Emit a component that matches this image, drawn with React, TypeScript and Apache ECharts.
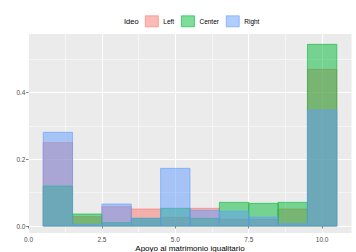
import React, { useEffect, useRef } from "react";
import * as echarts from "echarts";

const binCenters = [1, 2, 3, 4, 5, 6, 7, 8, 9, 10];
const leftValues = [0.25, 0.028, 0.058, 0.051, 0.026, 0.053, 0.02, 0.02, 0.051, 0.47];
const centerValues = [0.12, 0.036, 0.01, 0.023, 0.053, 0.023, 0.071, 0.068, 0.071, 0.545];
const rightValues = [0.281, 0.005, 0.066, 0.023, 0.173, 0.047, 0.044, 0.027, 0.007, 0.348];
const groupNames = ["Left", "Center", "Right"];
const xTickValues = [0, 2.5, 5, 7.5, 10];
const xMinorValues = [1.25, 3.75, 6.25, 8.75];
const yTickValues = [0, 0.2, 0.4];
const yMinorValues = [0.1, 0.3, 0.5];

const strokeColors = ["#F8766D", "#00BA38", "#619CFF"];
const fillColors = ["rgba(248,118,109,0.5)", "rgba(0,186,56,0.5)", "rgba(97,156,255,0.5)"];
const FONT = "Liberation Sans, Arial, Helvetica, sans-serif";
const Y_MIN = -0.021;
const Y_MAX = 0.576;

export default function App() {
  const ref = useRef<HTMLDivElement>(null);
  useEffect(() => {
    if (!ref.current) return;
    const chart = echarts.init(ref.current, null, { renderer: "svg" });
    const valueSets = [leftValues, centerValues, rightValues];
    const series = groupNames.map((name, gi) => ({
      type: "custom",
      name,
      xAxisIndex: 0,
      yAxisIndex: 0,
      itemStyle: { color: fillColors[gi], borderColor: strokeColors[gi], borderWidth: 0.6 },
      encode: { x: 0, y: 1 },
      data: binCenters.map((c, i) => [c, valueSets[gi][i]]),
      renderItem: (params: any, api: any) => {
        const x = api.value(0);
        const y = api.value(1);
        const p0 = api.coord([x - 0.5, y]);
        const p1 = api.coord([x + 0.5, 0]);
        return {
          type: "rect",
          shape: { x: p0[0], y: p0[1], width: p1[0] - p0[0], height: p1[1] - p0[1] },
          style: { fill: fillColors[gi], stroke: strokeColors[gi], lineWidth: 0.6 },
        };
      },
    }));
    chart.setOption({
      animation: false,
      backgroundColor: "#ffffff",
      textStyle: { fontFamily: FONT },
      grid: {
        left: 28.5,
        right: 4.5,
        top: 34,
        bottom: 19,
        show: true,
        backgroundColor: "#EBEBEB",
        borderWidth: 0,
        containLabel: false,
        outerBoundsMode: "none",
      },
      legend: {
        data: groupNames,
        icon: "rect",
        itemWidth: 13,
        itemHeight: 11,
        itemGap: 7,
        left: 145,
        top: 15.5,
        padding: 0,
        itemStyle: { borderWidth: 0.6 },
        textStyle: { fontSize: 6.5, color: "#000", fontFamily: FONT },
      },
      graphic: [
        {
          type: "text",
          left: 124,
          top: 17,
          style: { text: "Ideo", fontSize: 7.5, fill: "#000", fontFamily: FONT },
        },
      ],
      xAxis: [
        {
          type: "value",
          min: 0,
          max: 11,
          name: "Apoyo al matrimonio igualitario",
          nameLocation: "middle",
          nameGap: 15,
          nameMoveOverlap: false,
          nameTextStyle: { fontSize: 8, color: "#000", fontFamily: FONT, verticalAlign: "middle" },
          axisLine: { show: false },
          axisTick: { show: true, length: 2.5, customValues: xTickValues, lineStyle: { color: "#333", width: 0.6 } },
          axisLabel: {
            customValues: xTickValues,
            fontSize: 6.5,
            color: "#4D4D4D",
            margin: 2.5,
            formatter: (v: number) => v.toFixed(1),
          },
          splitLine: { show: true, lineStyle: { color: "#ffffff", width: 1 } },
        },
        {
          type: "value",
          min: 0,
          max: 11,
          position: "bottom",
          axisLine: { show: false },
          axisTick: { show: false, customValues: xMinorValues },
          axisLabel: { show: false, customValues: xMinorValues },
          splitLine: { show: true, lineStyle: { color: "#ffffff", width: 0.5 } },
        },
      ],
      yAxis: [
        {
          type: "value",
          min: Y_MIN,
          max: Y_MAX,
          axisLine: { show: false },
          axisTick: { show: true, length: 2.5, customValues: yTickValues, lineStyle: { color: "#333", width: 0.6 } },
          axisLabel: {
            customValues: yTickValues,
            fontSize: 6.5,
            color: "#4D4D4D",
            margin: 3,
            formatter: (v: number) => v.toFixed(1),
          },
          splitLine: { show: true, lineStyle: { color: "#ffffff", width: 1 } },
        },
        {
          type: "value",
          min: Y_MIN,
          max: Y_MAX,
          position: "left",
          axisLine: { show: false },
          axisTick: { show: false, customValues: yMinorValues },
          axisLabel: { show: false, customValues: yMinorValues },
          splitLine: { show: true, lineStyle: { color: "#ffffff", width: 0.5 } },
        },
      ],
      series,
    });
    return () => chart.dispose();
  }, []);
  return (
    <div
      ref={ref}
      style={{ position: "fixed", left: 0, top: 0, width: 356, height: 252 }}
    />
  );
}
